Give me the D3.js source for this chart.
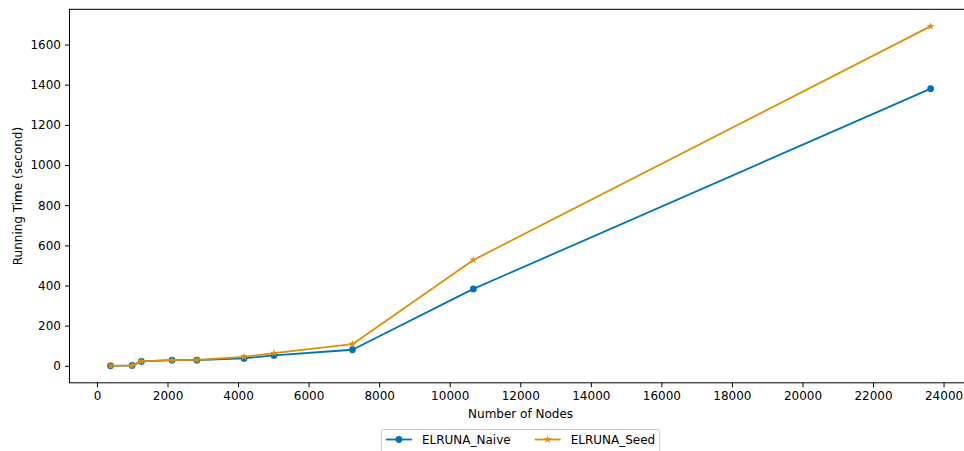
<!DOCTYPE html>
<html>
<head>
<meta charset="utf-8">
<script src="https://cdn.jsdelivr.net/npm/d3@7"></script>
<style>
  html, body { margin: 0; padding: 0; background: #fff; }
  svg { display: block; font-family: "DejaVu Sans", sans-serif; }
</style>
</head>
<body>
<svg id="chart" width="964" height="451"></svg>
<script>
// Running time of ELRUNA variants versus graph size
const nodes = [384, 997, 1260, 2127, 2833, 4170, 5020, 7243, 10671, 23632];
const naiveTime = [0, 2, 22, 28, 28, 37, 52, 80, 383, 1380];
const seedTime = [0, 1, 22, 28, 30, 45, 63, 108, 527, 1691];
const xTicks = [0, 2000, 4000, 6000, 8000, 10000, 12000, 14000, 16000, 18000, 20000, 22000, 24000];
const yTicks = [0, 200, 400, 600, 800, 1000, 1200, 1400, 1600];
const seriesNames = ["ELRUNA_Naive", "ELRUNA_Seed"];
const seriesColors = ["#0173b2", "#de8f05"];

const svg = d3.select("#chart");
const W = 964, H = 451;
const plot = { left: 69.5, right: 971.6, top: 9.3, bottom: 382.8 };
const fontSize = 12;

// axis limits with 5% padding around the data
const xMin = d3.min(nodes), xMax = d3.max(nodes);
const xPad = (xMax - xMin) * 0.05;
const allY = naiveTime.concat(seedTime);
const yMin = d3.min(allY), yMax = d3.max(allY);
const yPad = (yMax - yMin) * 0.05;

const x = d3.scaleLinear().domain([xMin - xPad, xMax + xPad]).range([plot.left, plot.right]);
const y = d3.scaleLinear().domain([yMin - yPad, yMax + yPad]).range([plot.bottom, plot.top]);

svg.append("rect").attr("width", W).attr("height", H).attr("fill", "#fff");

const tickLen = 4.5;

// x axis
const xAxis = svg.append("g")
  .attr("transform", `translate(0,${plot.bottom})`)
  .call(d3.axisBottom(x).tickValues(xTicks).tickFormat(d3.format("d")).tickSizeOuter(0).tickSize(tickLen).tickPadding(4));
xAxis.select(".domain").remove();
xAxis.selectAll("line").attr("stroke", "#000").attr("stroke-width", 1);
xAxis.selectAll("text").attr("font-size", fontSize).attr("fill", "#000").attr("font-family", "DejaVu Sans");

// y axis
const yAxis = svg.append("g")
  .attr("transform", `translate(${plot.left},0)`)
  .call(d3.axisLeft(y).tickValues(yTicks).tickFormat(d3.format("d")).tickSizeOuter(0).tickSize(tickLen).tickPadding(4));
yAxis.select(".domain").remove();
yAxis.selectAll("line").attr("stroke", "#000").attr("stroke-width", 1);
yAxis.selectAll("text").attr("font-size", fontSize).attr("fill", "#000").attr("font-family", "DejaVu Sans");

// frame
svg.append("rect")
  .attr("x", plot.left).attr("y", plot.top)
  .attr("width", plot.right - plot.left).attr("height", plot.bottom - plot.top)
  .attr("fill", "none").attr("stroke", "#000").attr("stroke-width", 1);

// axis titles
svg.append("text")
  .attr("x", (plot.left + plot.right) / 2).attr("y", 418)
  .attr("text-anchor", "middle").attr("font-size", fontSize)
  .text("Number of Nodes");

svg.append("text")
  .attr("transform", `translate(22,${(plot.top + plot.bottom) / 2}) rotate(-90)`)
  .attr("text-anchor", "middle").attr("font-size", fontSize)
  .text("Running Time (second)");

// star path for the seed markers
function starPath(r) {
  const ri = r * 0.38;
  const pts = [];
  for (let i = 0; i < 10; i++) {
    const a = -Math.PI / 2 + i * Math.PI / 5;
    const rr = i % 2 === 0 ? r : ri;
    pts.push([rr * Math.cos(a), rr * Math.sin(a)]);
  }
  return "M" + pts.map(p => p.join(",")).join("L") + "Z";
}

const line = d3.line().x(d => x(d[0])).y(d => y(d[1]));
const series = [naiveTime, seedTime];

series.forEach((vals, i) => {
  const data = nodes.map((n, j) => [n, vals[j]]);
  const g = svg.append("g");
  g.append("path").datum(data)
    .attr("d", line).attr("fill", "none")
    .attr("stroke", seriesColors[i]).attr("stroke-width", 1.8)
    .attr("stroke-linejoin", "round").attr("stroke-linecap", "square");
  if (i === 0) {
    g.selectAll("circle").data(data).join("circle")
      .attr("cx", d => x(d[0])).attr("cy", d => y(d[1]))
      .attr("r", 3.4).attr("fill", seriesColors[i]);
  } else {
    g.selectAll("path.m").data(data).join("path").attr("class", "m")
      .attr("transform", d => `translate(${x(d[0])},${y(d[1])})`)
      .attr("d", starPath(4.2)).attr("fill", seriesColors[i]);
  }
});

// legend below the plot, centred on the axes
const legend = svg.append("g");
const handleLen = 26, handlePad = 10, colSpace = 24, borderPad = 4.5;
const legY = 439.5;
let cursor = 0;
seriesNames.forEach((name, i) => {
  const it = legend.append("g");
  it.append("line").attr("x1", cursor).attr("x2", cursor + handleLen)
    .attr("y1", legY).attr("y2", legY)
    .attr("stroke", seriesColors[i]).attr("stroke-width", 1.8);
  if (i === 0) {
    it.append("circle").attr("cx", cursor + handleLen / 2).attr("cy", legY).attr("r", 3.4).attr("fill", seriesColors[i]);
  } else {
    it.append("path").attr("transform", `translate(${cursor + handleLen / 2},${legY})`)
      .attr("d", starPath(4.2)).attr("fill", seriesColors[i]);
  }
  const t = it.append("text").attr("x", cursor + handleLen + handlePad).attr("y", legY + 4.3)
    .attr("font-size", fontSize).text(name);
  const w = t.node().getComputedTextLength();
  cursor += handleLen + handlePad + w + colSpace;
});
const contentW = cursor - colSpace;
const boxW = contentW + 2 * borderPad;
const boxLeft = (plot.left + plot.right) / 2 - boxW / 2;
legend.insert("rect", ":first-child")
  .attr("x", -borderPad).attr("y", 429.5).attr("width", boxW).attr("height", 24)
  .attr("rx", 2).attr("fill", "#fff").attr("stroke", "#ccc").attr("stroke-width", 1);
legend.attr("transform", `translate(${boxLeft + borderPad},0)`);
</script>
</body>
</html>
